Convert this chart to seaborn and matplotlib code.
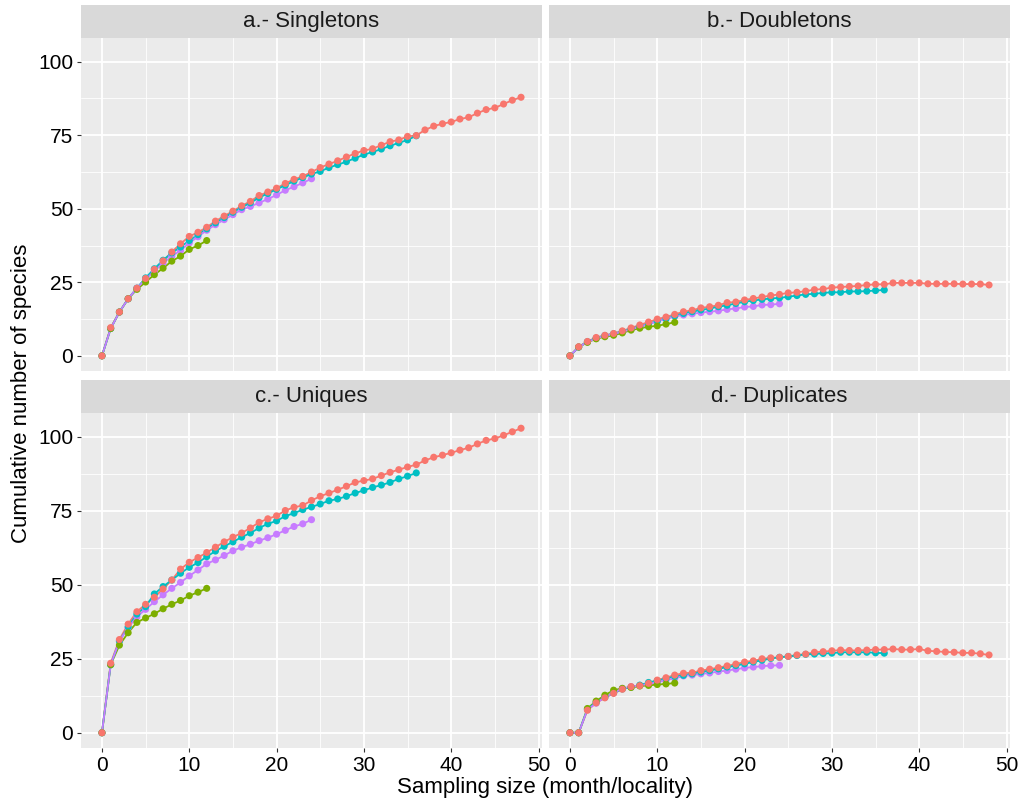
import numpy as np
import pandas as pd
import matplotlib
matplotlib.use("Agg")
import matplotlib.pyplot as plt
import seaborn as sns

# ---------------- data ----------------
levels = ["48", "12", "36", "24"]          # ggplot factor order (red, green, cyan, purple)
palette = {"48": "#F8766D", "12": "#7CAE00", "36": "#00BFC4", "24": "#C77CFF"}
panel_titles = ["a.- Singletons", "b.- Doubletons", "c.- Uniques", "d.- Duplicates"]

sing_48 = [0, 9.6, 14.9, 19.4, 23.0, 26.3, 29.4, 32.3, 35.3, 38.1,
           40.6, 42.0, 43.7, 45.8, 47.5, 49.2, 51.0, 52.5, 54.5, 55.7,
           57.0, 58.6, 60.0, 61.0, 62.5, 64.0, 65.2, 66.3, 67.6, 68.8,
           69.8, 70.4, 71.6, 72.8, 73.4, 74.6, 74.9, 76.8, 78.1, 78.9,
           79.5, 80.5, 81.1, 82.5, 83.7, 84.3, 85.6, 86.9, 87.9]
sing_36 = [0, 9.3, 14.9, 19.4, 23.0, 26.5, 29.6, 32.5, 35.0, 37.0,
           39.2, 41.2, 43.2, 45.2, 47.0, 48.8, 50.5, 52.0, 53.8, 55.2,
           56.6, 58.0, 59.4, 60.6, 61.8, 62.7, 64.0, 65.0, 66.0, 67.2,
           68.4, 69.3, 70.3, 71.4, 72.4, 73.4, 74.8]
sing_24 = [0, 9.3, 14.9, 19.4, 23.0, 26.0, 28.8, 31.5, 33.9, 35.8,
           38.4, 40.5, 42.7, 44.6, 46.3, 48.0, 49.7, 50.8, 52.0, 53.3,
           54.7, 56.3, 57.5, 58.8, 60.2]
sing_12 = [0, 9.3, 14.9, 19.4, 22.6, 25.1, 27.6, 29.8, 32.2, 33.9, 36.2, 37.5, 39.2]

doub_48 = [0, 3.1, 4.9, 6.25, 7.0, 7.6, 8.5, 9.5, 10.5, 11.5,
           12.5, 13.2, 14.1, 15.0, 15.5, 16.3, 16.7, 17.2, 18.1, 18.3,
           19.0, 19.5, 20.0, 20.5, 20.9, 21.4, 21.6, 22.0, 22.5, 22.7,
           23.2, 23.4, 23.6, 23.75, 24.1, 24.3, 24.3, 24.8, 24.8, 24.8,
           24.8, 24.5, 24.5, 24.5, 24.5, 24.4, 24.4, 24.4, 24.1]
doub_36 = [0, 3.0, 4.8, 6.0, 6.9, 7.5, 8.3, 9.2, 10.0, 10.9,
           11.8, 12.6, 13.6, 14.4, 15.0, 15.6, 16.1, 16.7, 17.2, 17.8,
           18.4, 18.8, 19.2, 19.5, 19.7, 20.1, 20.5, 20.9, 21.1, 21.4,
           21.6, 21.6, 21.9, 21.9, 22.0, 22.2, 22.4]
doub_24 = [0, 3.0, 4.7, 5.9, 6.8, 7.4, 8.2, 9.0, 9.9, 10.8,
           11.7, 12.6, 13.4, 13.9, 14.3, 14.7, 15.0, 15.3, 15.8, 16.1,
           16.6, 16.8, 17.3, 17.4, 17.7]
doub_12 = [0, 3.0, 4.6, 5.8, 6.5, 7.0, 7.8, 8.75, 9.4, 9.9, 10.2, 10.8, 11.4]

uniq_48 = [0, 23.5, 31.5, 36.7, 40.9, 43.4, 45.8, 48.6, 51.6, 55.3,
           57.6, 59.2, 60.9, 62.7, 64.5, 66.1, 67.5, 69.2, 71.1, 72.3,
           73.3, 75.1, 76.2, 76.8, 78.5, 79.9, 81.0, 82.1, 83.3, 84.6,
           85.2, 85.8, 86.9, 88.0, 88.9, 89.8, 90.6, 92.0, 93.1, 93.8,
           94.6, 95.5, 96.3, 97.6, 98.8, 99.4, 100.5, 101.7, 102.9]
uniq_36 = [0, 23.0, 31.0, 35.8, 40.1, 42.6, 46.9, 49.4, 51.6, 53.9,
           55.9, 57.5, 59.5, 61.4, 63.0, 64.5, 66.1, 67.5, 69.2, 70.6,
           71.6, 73.2, 74.2, 75.4, 76.3, 77.3, 78.4, 79.0, 79.9, 81.0,
           81.9, 82.9, 83.7, 84.6, 85.8, 86.7, 87.8]
uniq_24 = [0, 23.0, 31.0, 35.5, 39.2, 41.7, 44.3, 46.6, 48.8, 50.8,
           53.0, 55.0, 57.1, 58.4, 59.9, 61.5, 62.7, 63.7, 64.9, 65.9,
           67.1, 68.4, 69.7, 70.6, 72.0]
uniq_12 = [0, 23.0, 29.6, 33.8, 37.3, 38.8, 40.2, 41.9, 43.4, 44.7, 46.3, 47.5, 48.8]

dupl_48 = [0, 0, 7.6, 10.1, 11.8, 13.3, 14.7, 15.6, 15.9, 16.7,
           17.8, 18.6, 19.5, 20.1, 20.3, 21.0, 21.5, 22.0, 22.6, 23.2,
           23.9, 24.3, 25.0, 25.3, 25.5, 25.8, 26.3, 26.6, 27.2, 27.4,
           27.7, 27.95, 27.8, 27.8, 27.95, 28.1, 28.1, 28.3, 28.1, 28.1,
           28.3, 27.7, 27.5, 27.3, 27.2, 27.0, 27.0, 26.7, 26.3]
dupl_36 = [0, 0, 8.0, 10.3, 12.0, 13.5, 14.8, 15.4, 16.1, 17.0,
           17.6, 18.3, 19.0, 19.4, 19.9, 20.5, 21.0, 21.6, 22.2, 22.7,
           23.3, 23.9, 24.5, 25.1, 25.5, 25.8, 26.1, 26.5, 26.6, 26.8,
           26.9, 27.2, 27.2, 27.2, 27.2, 27.0, 26.9]
dupl_24 = [0, 0, 7.8, 10.0, 12.0, 13.5, 15.0, 15.6, 16.0, 16.5,
           17.0, 17.8, 18.4, 19.2, 19.5, 19.9, 20.2, 20.7, 21.0, 21.5,
           21.9, 22.2, 22.5, 22.7, 22.8]
dupl_12 = [0, 0, 8.2, 10.7, 12.7, 14.4, 15.0, 15.3, 15.8, 16.0, 16.3, 16.5, 16.8]

panel_data = {
    panel_titles[0]: {"48": sing_48, "36": sing_36, "24": sing_24, "12": sing_12},
    panel_titles[1]: {"48": doub_48, "36": doub_36, "24": doub_24, "12": doub_12},
    panel_titles[2]: {"48": uniq_48, "36": uniq_36, "24": uniq_24, "12": uniq_12},
    panel_titles[3]: {"48": dupl_48, "36": dupl_36, "24": dupl_24, "12": dupl_12},
}

rows = []
for panel, d in panel_data.items():
    for s, vals in d.items():
        for i, v in enumerate(vals):
            rows.append({"panel": panel, "series": s, "x": i, "y": v})
df = pd.DataFrame(rows)

# ---------------- style ----------------
sns.set_theme(style="darkgrid")
plt.rcParams["font.family"] = ["Liberation Sans", "DejaVu Sans"]

W, H = 1022, 807
fig = plt.figure(figsize=(W / 100, H / 100), dpi=100)
fig.patch.set_facecolor("white")

def add_px_axes(x0, y0, x1, y1):
    return fig.add_axes([x0 / W, 1 - y1 / H, (x1 - x0) / W, (y1 - y0) / H])

cols = [(81, 542), (549, 1010)]
rows_px = [((5, 38), (38, 371)), ((380, 413), (413, 748))]

xmin, xmax = -2.4, 50.4
ymax_data = df["y"].max()
ypad = 0.05 * ymax_data
ymin_ax, ymax_ax = -ypad, ymax_data + ypad

point_order = {"24": 0, "36": 1, "12": 2, "48": 3}

for k, title in enumerate(panel_titles):
    r, c = divmod(k, 2)
    (sy0, sy1), (py0, py1) = rows_px[r]
    x0, x1 = cols[c]
    # strip
    sax = add_px_axes(x0, sy0, x1, sy1)
    sax.set_facecolor("#D9D9D9")
    sax.set_xticks([]); sax.set_yticks([])
    for sp in sax.spines.values():
        sp.set_visible(False)
    sax.grid(False)
    sax.text(0.5, 0.5, title, ha="center", va="center", fontsize=16,
             color="#1A1A1A", transform=sax.transAxes)

    ax = add_px_axes(x0, py0, x1, py1)
    ax.set_facecolor("#EBEBEB")
    sub = df[df["panel"] == title]
    sns.lineplot(data=sub, x="x", y="y", hue="series", hue_order=levels,
                 palette=palette, ax=ax, legend=False, linewidth=1.3,
                 estimator=None, sort=True)
    subp = sub.assign(o=sub["series"].map(point_order)).sort_values(["o", "x"], kind="stable")
    sns.scatterplot(data=subp, x="x", y="y", hue="series", hue_order=levels,
                    palette=palette, ax=ax, legend=False, s=26, linewidth=0,
                    zorder=3)
    ax.set_xlim(xmin, xmax)
    ax.set_ylim(ymin_ax, ymax_ax)
    ax.set_xticks([0, 10, 20, 30, 40, 50])
    ax.set_yticks([0, 25, 50, 75, 100])
    ax.set_xticks([5, 15, 25, 35, 45], minor=True)
    ax.set_yticks([12.5, 37.5, 62.5, 87.5], minor=True)
    ax.grid(which="major", color="white", linewidth=1.3)
    ax.grid(which="minor", color="white", linewidth=0.6)
    ax.set_axisbelow(True)
    for sp in ax.spines.values():
        sp.set_visible(False)
    ax.tick_params(which="major", length=3, width=0.8, color="#333333",
                   labelsize=15, labelcolor="black", pad=2.5)
    ax.tick_params(which="minor", length=0)
    ax.tick_params(axis="x", bottom=True)
    ax.tick_params(axis="y", left=True)
    ax.set_xlabel("")
    ax.set_ylabel("")
    if r == 0:
        ax.tick_params(axis="x", labelbottom=False, bottom=False)
    if c == 1:
        ax.tick_params(axis="y", labelleft=False, left=False)

fig.text(22 / W, 1 - 393 / H, "Cumulative number of species", rotation=90,
         ha="center", va="center", fontsize=16, color="black")
fig.text(545 / W, 1 - 787 / H, "Sampling size (month/locality)",
         ha="center", va="center", fontsize=16, color="black")

fig.savefig("out.png", dpi=100, facecolor="white")
